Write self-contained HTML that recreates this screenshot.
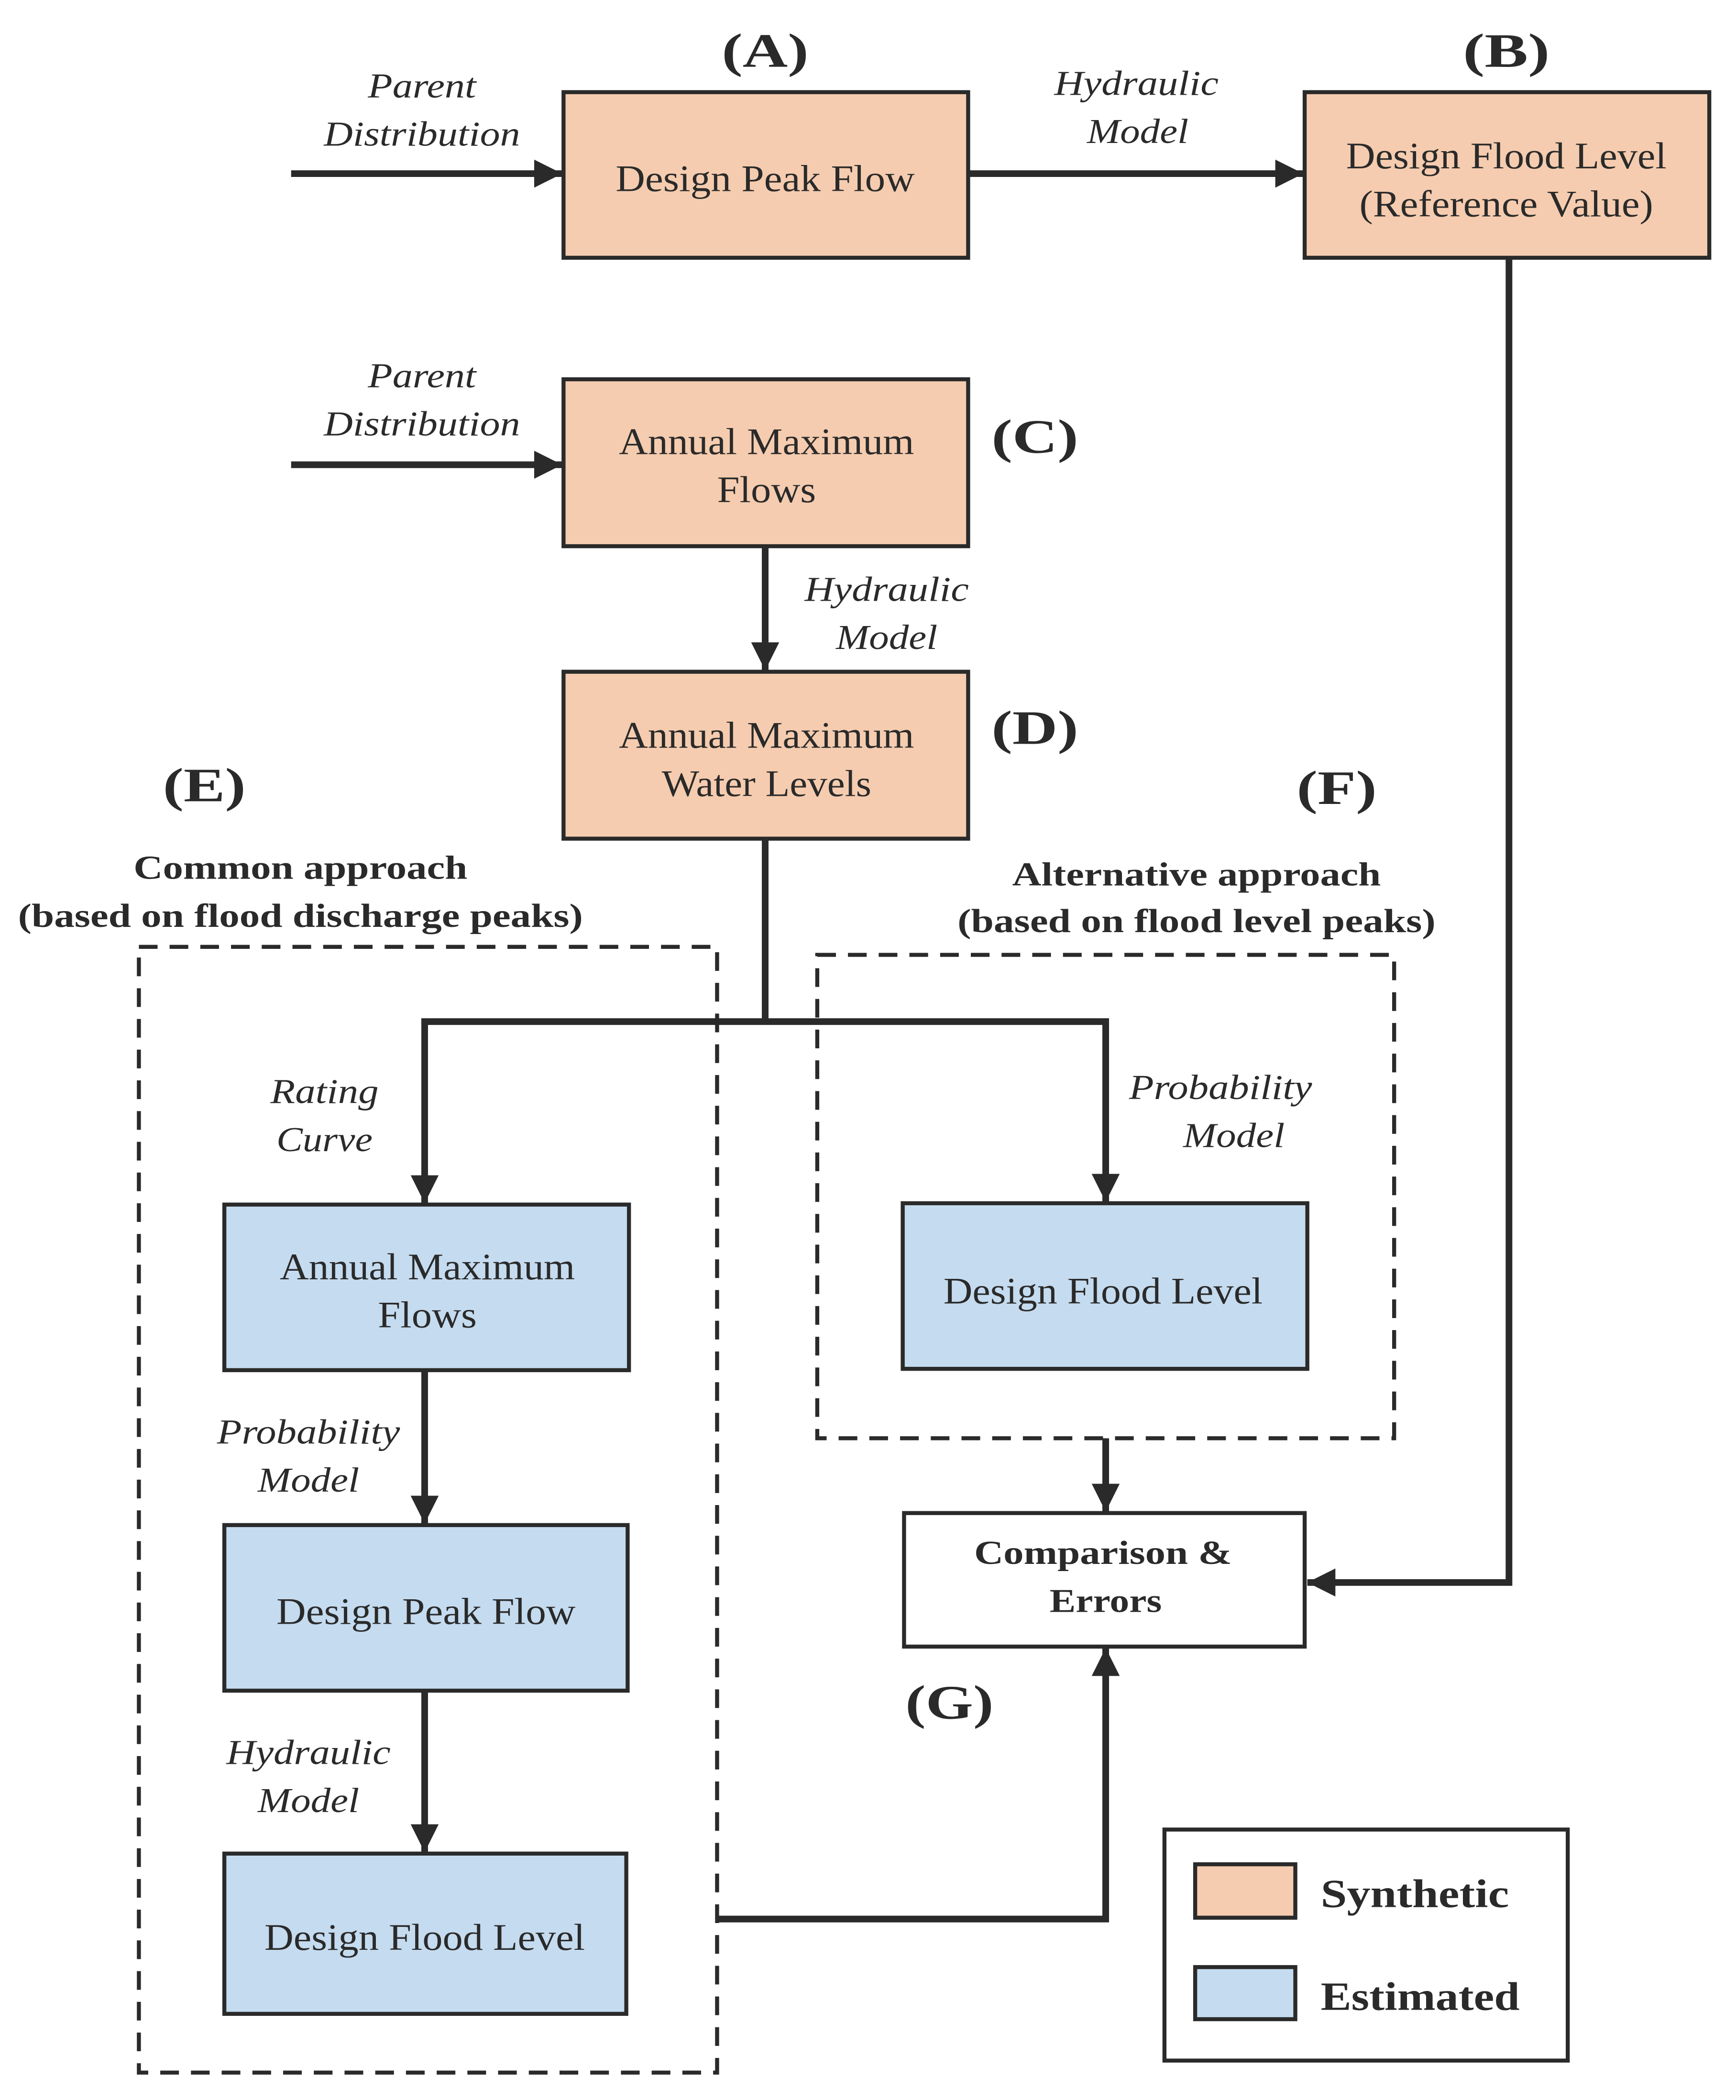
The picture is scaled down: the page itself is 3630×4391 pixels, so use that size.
<!DOCTYPE html>
<html><head><meta charset="utf-8">
<style>
html,body{margin:0;padding:0;background:#fff;}
svg{display:block;}
text{font-family:"Liberation Serif",serif;fill:#2a2a2a;}
.b{font-size:28px;}
.i{font-size:26px;font-style:italic;}
.L{font-size:36px;font-weight:bold;}
.h{font-size:25px;font-weight:bold;}
.g{font-size:30px;font-weight:bold;}
</style></head>
<body>
<svg width="3630" height="4391" viewBox="0 0 1300 1572.5" xmlns="http://www.w3.org/2000/svg">
<defs>
<marker id="ar" viewBox="0 0 10 10" refX="10" refY="5" markerWidth="4.2" markerHeight="4.2" markerUnits="strokeWidth" orient="auto">
<path d="M0,0 L10,5 L0,10 z" fill="#2a2a2a"/>
</marker>
</defs>
<g stroke="#2a2a2a" stroke-width="5" fill="none">
<line x1="218" y1="130" x2="421" y2="130" marker-end="url(#ar)"/>
<line x1="725" y1="130" x2="976" y2="130" marker-end="url(#ar)"/>
<polyline points="1130,193 1130,1185 979,1185" marker-end="url(#ar)"/>
<line x1="218" y1="348" x2="421" y2="348" marker-end="url(#ar)"/>
<line x1="573" y1="409" x2="573" y2="502" marker-end="url(#ar)"/>
<polyline points="573,628 573,765"/>
<polyline points="573,765 318,765 318,901" marker-end="url(#ar)"/>
<polyline points="573,765 828,765 828,900" marker-end="url(#ar)"/>
<line x1="318" y1="1026" x2="318" y2="1141" marker-end="url(#ar)"/>
<line x1="318" y1="1266" x2="318" y2="1387" marker-end="url(#ar)"/>
<polyline points="537,1437 828,1437 828,1234" marker-end="url(#ar)"/>
<line x1="828" y1="1077" x2="828" y2="1132" marker-end="url(#ar)"/>
</g>
<g stroke="#2a2a2a" stroke-width="3" fill="none" stroke-dasharray="14,9">
<rect x="104" y="709" width="433" height="843"/>
<rect x="612" y="715" width="432" height="362"/>
</g>
<g stroke="#2a2a2a" stroke-width="3">
<rect x="422" y="69" width="303" height="124" fill="#F5CCAF"/>
<rect x="977" y="69" width="303" height="124" fill="#F5CCAF"/>
<rect x="422" y="284" width="303" height="125" fill="#F5CCAF"/>
<rect x="422" y="503" width="303" height="125" fill="#F5CCAF"/>
<rect x="168" y="902" width="303" height="124" fill="#C5DBEF"/>
<rect x="676" y="901" width="303" height="124" fill="#C5DBEF"/>
<rect x="168" y="1142" width="302" height="124" fill="#C5DBEF"/>
<rect x="168" y="1388" width="301" height="120" fill="#C5DBEF"/>
<rect x="677" y="1133" width="300" height="100" fill="#fff"/>
<rect x="872" y="1370" width="302" height="173" fill="#fff"/>
<rect x="895" y="1396" width="75" height="40" fill="#F5CCAF"/>
<rect x="895" y="1473" width="75" height="39" fill="#C5DBEF"/>
</g>
<g text-anchor="middle">
<text class="L" x="573" y="50" textLength="65" lengthAdjust="spacingAndGlyphs">(A)</text>
<text class="L" x="1128" y="50" textLength="65" lengthAdjust="spacingAndGlyphs">(B)</text>
<text class="L" x="775" y="339" textLength="65" lengthAdjust="spacingAndGlyphs">(C)</text>
<text class="L" x="775" y="557" textLength="65" lengthAdjust="spacingAndGlyphs">(D)</text>
<text class="L" x="153" y="600" textLength="62" lengthAdjust="spacingAndGlyphs">(E)</text>
<text class="L" x="1001" y="602" textLength="60" lengthAdjust="spacingAndGlyphs">(F)</text>
<text class="L" x="711" y="1287" textLength="66" lengthAdjust="spacingAndGlyphs">(G)</text>

<text class="b" x="573" y="143" textLength="224" lengthAdjust="spacingAndGlyphs">Design Peak Flow</text>
<text class="b" x="1128" y="126" textLength="240" lengthAdjust="spacingAndGlyphs">Design Flood Level</text>
<text class="b" x="1128" y="162" textLength="220" lengthAdjust="spacingAndGlyphs">(Reference Value)</text>
<text class="b" x="574" y="340" textLength="221" lengthAdjust="spacingAndGlyphs">Annual Maximum</text>
<text class="b" x="574" y="376" textLength="74" lengthAdjust="spacingAndGlyphs">Flows</text>
<text class="b" x="574" y="560" textLength="221" lengthAdjust="spacingAndGlyphs">Annual Maximum</text>
<text class="b" x="574" y="596" textLength="157" lengthAdjust="spacingAndGlyphs">Water Levels</text>
<text class="b" x="320" y="958" textLength="221" lengthAdjust="spacingAndGlyphs">Annual Maximum</text>
<text class="b" x="320" y="994" textLength="74" lengthAdjust="spacingAndGlyphs">Flows</text>
<text class="b" x="826" y="976" textLength="239" lengthAdjust="spacingAndGlyphs">Design Flood Level</text>
<text class="b" x="319" y="1216" textLength="224" lengthAdjust="spacingAndGlyphs">Design Peak Flow</text>
<text class="b" x="318" y="1460" textLength="240" lengthAdjust="spacingAndGlyphs">Design Flood Level</text>

<text class="i" x="316" y="73" textLength="81" lengthAdjust="spacingAndGlyphs">Parent</text>
<text class="i" x="316" y="109" textLength="147" lengthAdjust="spacingAndGlyphs">Distribution</text>
<text class="i" x="851" y="71" textLength="123" lengthAdjust="spacingAndGlyphs">Hydraulic</text>
<text class="i" x="852" y="107" textLength="76" lengthAdjust="spacingAndGlyphs">Model</text>
<text class="i" x="316" y="290" textLength="81" lengthAdjust="spacingAndGlyphs">Parent</text>
<text class="i" x="316" y="326" textLength="147" lengthAdjust="spacingAndGlyphs">Distribution</text>
<text class="i" x="664" y="450" textLength="123" lengthAdjust="spacingAndGlyphs">Hydraulic</text>
<text class="i" x="664" y="486" textLength="76" lengthAdjust="spacingAndGlyphs">Model</text>
<text class="i" x="243" y="826" textLength="81" lengthAdjust="spacingAndGlyphs">Rating</text>
<text class="i" x="243" y="862" textLength="72" lengthAdjust="spacingAndGlyphs">Curve</text>
<text class="i" x="914" y="823" textLength="137" lengthAdjust="spacingAndGlyphs">Probability</text>
<text class="i" x="924" y="859" textLength="76" lengthAdjust="spacingAndGlyphs">Model</text>
<text class="i" x="231" y="1081" textLength="137" lengthAdjust="spacingAndGlyphs">Probability</text>
<text class="i" x="231" y="1117" textLength="76" lengthAdjust="spacingAndGlyphs">Model</text>
<text class="i" x="231" y="1321" textLength="123" lengthAdjust="spacingAndGlyphs">Hydraulic</text>
<text class="i" x="231" y="1357" textLength="76" lengthAdjust="spacingAndGlyphs">Model</text>

<text class="h" x="225" y="658" textLength="250" lengthAdjust="spacingAndGlyphs">Common approach</text>
<text class="h" x="225" y="694" textLength="423" lengthAdjust="spacingAndGlyphs">(based on flood discharge peaks)</text>
<text class="h" x="896" y="663" textLength="276" lengthAdjust="spacingAndGlyphs">Alternative approach</text>
<text class="h" x="896" y="698" textLength="358" lengthAdjust="spacingAndGlyphs">(based on flood level peaks)</text>
<text class="h" x="826" y="1171" textLength="193" lengthAdjust="spacingAndGlyphs">Comparison &amp;</text>
<text class="h" x="828" y="1207" textLength="84" lengthAdjust="spacingAndGlyphs">Errors</text>
</g>
<text class="g" x="989" y="1428" textLength="141" lengthAdjust="spacingAndGlyphs">Synthetic</text>
<text class="g" x="989" y="1505" textLength="149" lengthAdjust="spacingAndGlyphs">Estimated</text>
</svg>
</body></html>
